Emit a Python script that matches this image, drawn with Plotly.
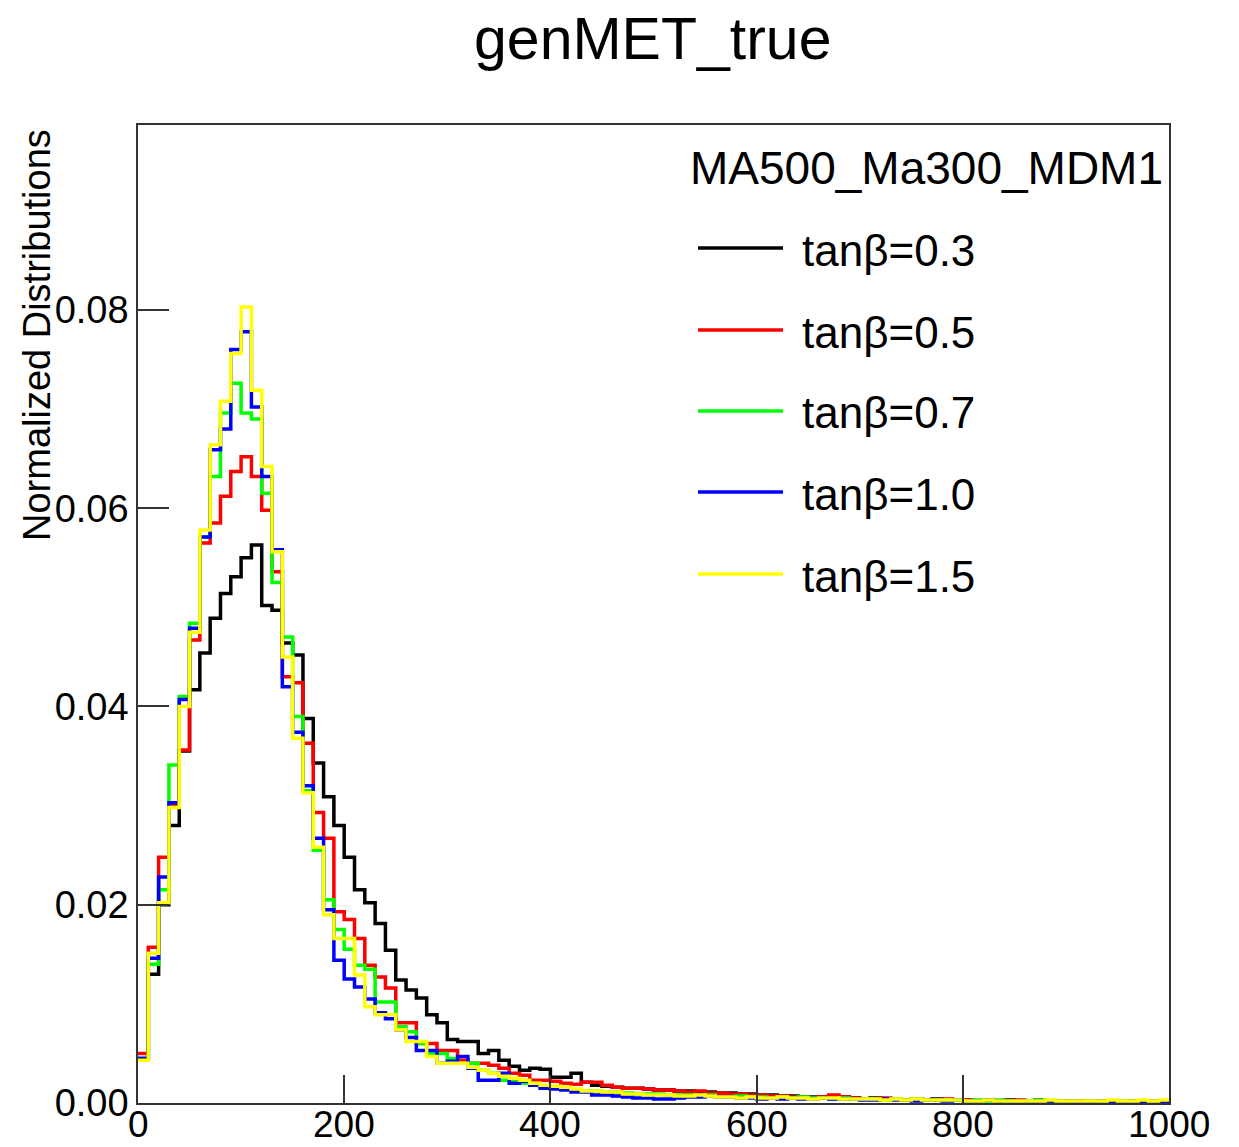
import plotly.graph_objects as go

# ---------------- data ----------------
bin_edges = [10 * i for i in range(101)]  # 0 .. 1000, 10 GeV bins

series_labels = ["tanβ=0.3", "tanβ=0.5", "tanβ=0.7", "tanβ=1.0", "tanβ=1.5"]
legend_header = "MA500_Ma300_MDM1"
chart_title = "genMET_true"
y_title = "Normalized Distributions"
x_tickvals = [0, 200, 400, 600, 800, 1000]
x_ticktext = ["0", "200", "400", "600", "800", "1000"]
y_tickvals = [0.00, 0.02, 0.04, 0.06, 0.08]

tanb03 = [
    0.0045, 0.0130, 0.0200, 0.0280, 0.0355, 0.0417, 0.0454, 0.0489, 0.0514, 0.0531,
    0.0550, 0.0563, 0.0502, 0.0497, 0.0464, 0.0452, 0.0388, 0.0343, 0.0309, 0.0280,
    0.0248, 0.0215, 0.0202, 0.0181, 0.0154, 0.0124, 0.0114, 0.0106, 0.0089, 0.0081,
    0.0064, 0.0062, 0.0062, 0.0050, 0.0053, 0.0043, 0.0037, 0.0033, 0.0035, 0.0034,
    0.0026, 0.0026, 0.0030, 0.0021, 0.0018, 0.0017, 0.0016, 0.0015, 0.0015, 0.0014,
    0.0013, 0.0013, 0.0012, 0.0012, 0.0011, 0.0011, 0.0010, 0.0010, 0.0009, 0.0009,
    0.0008, 0.0008, 0.0007, 0.0007, 0.0006, 0.0006, 0.0006, 0.0005, 0.0006, 0.0005,
    0.0004, 0.0005, 0.0004, 0.0004, 0.0003, 0.0004, 0.0003, 0.0004, 0.0003, 0.0003,
    0.0003, 0.0002, 0.0003, 0.0002, 0.0003, 0.0002, 0.0002, 0.0003, 0.0002, 0.0002,
    0.0002, 0.0002, 0.0001, 0.0002, 0.0002, 0.0001, 0.0002, 0.0001, 0.0001, 0.0002,
]
tanb05 = [
    0.0050, 0.0157, 0.0248, 0.0300, 0.0356, 0.0467, 0.0565, 0.0585, 0.0612, 0.0637,
    0.0652, 0.0632, 0.0598, 0.0536, 0.0430, 0.0424, 0.0363, 0.0293, 0.0267, 0.0193,
    0.0185, 0.0166, 0.0139, 0.0127, 0.0116, 0.0081, 0.0081, 0.0060, 0.0060, 0.0053,
    0.0053, 0.0043, 0.0040, 0.0040, 0.0038, 0.0035, 0.0030, 0.0028, 0.0023, 0.0023,
    0.0022, 0.0020, 0.0019, 0.0021, 0.0021, 0.0018, 0.0016, 0.0015, 0.0015, 0.0014,
    0.0013, 0.0013, 0.0012, 0.0011, 0.0012, 0.0010, 0.0010, 0.0009, 0.0009, 0.0008,
    0.0008, 0.0007, 0.0007, 0.0006, 0.0006, 0.0005, 0.0006, 0.0008, 0.0006, 0.0005,
    0.0004, 0.0004, 0.0005, 0.0004, 0.0003, 0.0004, 0.0003, 0.0003, 0.0004, 0.0003,
    0.0003, 0.0002, 0.0003, 0.0002, 0.0002, 0.0003, 0.0002, 0.0002, 0.0002, 0.0002,
    0.0001, 0.0002, 0.0002, 0.0001, 0.0002, 0.0001, 0.0001, 0.0002, 0.0001, 0.0001,
]
tanb07 = [
    0.0045, 0.0140, 0.0215, 0.0341, 0.0410, 0.0484, 0.0571, 0.0632, 0.0696, 0.0726,
    0.0696, 0.0690, 0.0615, 0.0525, 0.0470, 0.0390, 0.0315, 0.0255, 0.0205, 0.0175,
    0.0155, 0.0139, 0.0135, 0.0102, 0.0102, 0.0077, 0.0072, 0.0060, 0.0050, 0.0050,
    0.0045, 0.0040, 0.0040, 0.0033, 0.0030, 0.0023, 0.0022, 0.0020, 0.0020, 0.0017,
    0.0016, 0.0015, 0.0013, 0.0012, 0.0012, 0.0011, 0.0011, 0.0010, 0.0009, 0.0009,
    0.0009, 0.0008, 0.0008, 0.0008, 0.0007, 0.0008, 0.0006, 0.0006, 0.0007, 0.0006,
    0.0006, 0.0005, 0.0006, 0.0005, 0.0006, 0.0005, 0.0005, 0.0004, 0.0005, 0.0004,
    0.0004, 0.0004, 0.0003, 0.0004, 0.0003, 0.0004, 0.0003, 0.0003, 0.0003, 0.0003,
    0.0002, 0.0003, 0.0002, 0.0003, 0.0002, 0.0002, 0.0002, 0.0003, 0.0002, 0.0002,
    0.0002, 0.0001, 0.0002, 0.0002, 0.0001, 0.0002, 0.0001, 0.0001, 0.0001, 0.0001,
]
tanb10 = [
    0.0045, 0.0146, 0.0228, 0.0303, 0.0407, 0.0479, 0.0571, 0.0659, 0.0680, 0.0760,
    0.0778, 0.0702, 0.0632, 0.0558, 0.0420, 0.0374, 0.0320, 0.0267, 0.0195, 0.0144,
    0.0125, 0.0117, 0.0105, 0.0091, 0.0085, 0.0074, 0.0066, 0.0053, 0.0053, 0.0040,
    0.0042, 0.0047, 0.0035, 0.0023, 0.0023, 0.0030, 0.0020, 0.0022, 0.0018, 0.0015,
    0.0014, 0.0013, 0.0011, 0.0011, 0.0008, 0.0008, 0.0007, 0.0006, 0.0005, 0.0005,
    0.0004, 0.0004, 0.0005, 0.0006, 0.0006, 0.0007, 0.0006, 0.0006, 0.0005, 0.0005,
    0.0004, 0.0005, 0.0004, 0.0005, 0.0004, 0.0004, 0.0005, 0.0004, 0.0004, 0.0004,
    0.0003, 0.0003, 0.0004, 0.0003, 0.0003, 0.0002, 0.0003, 0.0003, 0.0002, 0.0003,
    0.0002, 0.0002, 0.0003, 0.0002, 0.0002, 0.0002, 0.0001, 0.0002, 0.0002, 0.0001,
    0.0002, 0.0001, 0.0001, 0.0002, 0.0001, 0.0001, 0.0001, 0.0001, 0.0002, 0.0001,
]
tanb15 = [
    0.0043, 0.0151, 0.0202, 0.0298, 0.0400, 0.0475, 0.0578, 0.0664, 0.0708, 0.0756,
    0.0803, 0.0719, 0.0642, 0.0556, 0.0450, 0.0368, 0.0313, 0.0258, 0.0190, 0.0166,
    0.0166, 0.0129, 0.0097, 0.0089, 0.0089, 0.0074, 0.0062, 0.0062, 0.0047, 0.0040,
    0.0040, 0.0040, 0.0036, 0.0033, 0.0030, 0.0027, 0.0025, 0.0023, 0.0020, 0.0018,
    0.0017, 0.0016, 0.0014, 0.0012, 0.0012, 0.0011, 0.0011, 0.0009, 0.0009, 0.0008,
    0.0008, 0.0008, 0.0007, 0.0007, 0.0008, 0.0007, 0.0006, 0.0006, 0.0005, 0.0006,
    0.0005, 0.0005, 0.0006, 0.0005, 0.0005, 0.0004, 0.0005, 0.0005, 0.0004, 0.0004,
    0.0004, 0.0004, 0.0003, 0.0004, 0.0003, 0.0004, 0.0003, 0.0003, 0.0003, 0.0003,
    0.0002, 0.0002, 0.0003, 0.0002, 0.0002, 0.0002, 0.0002, 0.0002, 0.0003, 0.0002,
    0.0002, 0.0002, 0.0002, 0.0002, 0.0003, 0.0002, 0.0002, 0.0003, 0.0002, 0.0003,
]

all_series = [tanb03, tanb05, tanb07, tanb10, tanb15]
colors = ["#000000", "#ff0000", "#00ff00", "#0000ff", "#ffff00"]

# ---------------- figure ----------------
W, H = 1239, 1147
ML, MR, MT, MB = 138, 70, 125, 44
PW, PH = W - ML - MR, H - MT - MB
FONT = "Liberation Sans, Arial, Helvetica, sans-serif"


def px_x(px):
    return (px - ML) / PW


def px_y(py):
    return (H - MB - py) / PH


fig = go.Figure()
for vals, col, name in zip(all_series, colors, series_labels):
    fig.add_trace(go.Scatter(
        x=bin_edges,
        y=vals + [vals[-1]],
        mode="lines",
        line=dict(color=col, width=3.5, shape="hv"),
        name=name,
        showlegend=False,
        hoverinfo="skip",
    ))

axis_common = dict(
    showgrid=False, zeroline=False, automargin=False,
    showline=True, linecolor="#333333", linewidth=1.5, mirror=True,
    ticks="inside", tickcolor="#333333", tickwidth=1.5,
    tickfont=dict(family=FONT, size=38, color="#000000"),
)

fig.update_xaxes(range=[0, 1000], tickvals=x_tickvals, ticklen=28,
                 showticklabels=False, **axis_common)
fig.update_yaxes(range=[0, 0.09866], tickvals=y_tickvals, tickformat=".2f",
                 ticklen=31, ticklabelstandoff=0, **axis_common)

annotations = [
    dict(text=chart_title, x=px_x(652), y=px_y(39), xref="paper", yref="paper",
         xanchor="center", yanchor="middle", showarrow=False,
         font=dict(family=FONT, size=59, color="#000000")),
    dict(text=y_title, x=px_x(37), y=px_y(335), xref="paper", yref="paper",
         xanchor="center", yanchor="middle", showarrow=False, textangle=-90,
         font=dict(family=FONT, size=38, color="#000000")),
    dict(text=legend_header, x=px_x(688), y=px_y(168), xref="paper", yref="paper",
         xanchor="left", yanchor="middle", showarrow=False,
         font=dict(family=FONT, size=46, color="#000000")),
]
# x tick labels placed on the data axis (kept inside the canvas)
for tv, tt in zip(x_tickvals, x_ticktext):
    annotations.append(dict(text=tt, x=tv, xref="x", y=px_y(1124), yref="paper",
                            xanchor="center", yanchor="middle", showarrow=False,
                            font=dict(family=FONT, size=37, color="#000000")))

shapes = []
entry_y = [248, 330, 411, 492, 574]
for name, col, ey in zip(series_labels, colors, entry_y):
    annotations.append(dict(text=name, x=px_x(800), y=px_y(ey + 2), xref="paper", yref="paper",
                            xanchor="left", yanchor="middle", showarrow=False,
                            font=dict(family=FONT, size=44, color="#000000")))
    shapes.append(dict(type="line", xref="paper", yref="paper",
                       x0=px_x(698), x1=px_x(783), y0=px_y(ey), y1=px_y(ey),
                       line=dict(color=col, width=3.5)))

fig.update_layout(
    width=W, height=H,
    margin=dict(l=ML, r=MR, t=MT, b=MB, pad=0),
    paper_bgcolor="white", plot_bgcolor="white",
    annotations=annotations, shapes=shapes,
    showlegend=False,
)

fig.write_html("out.html")
